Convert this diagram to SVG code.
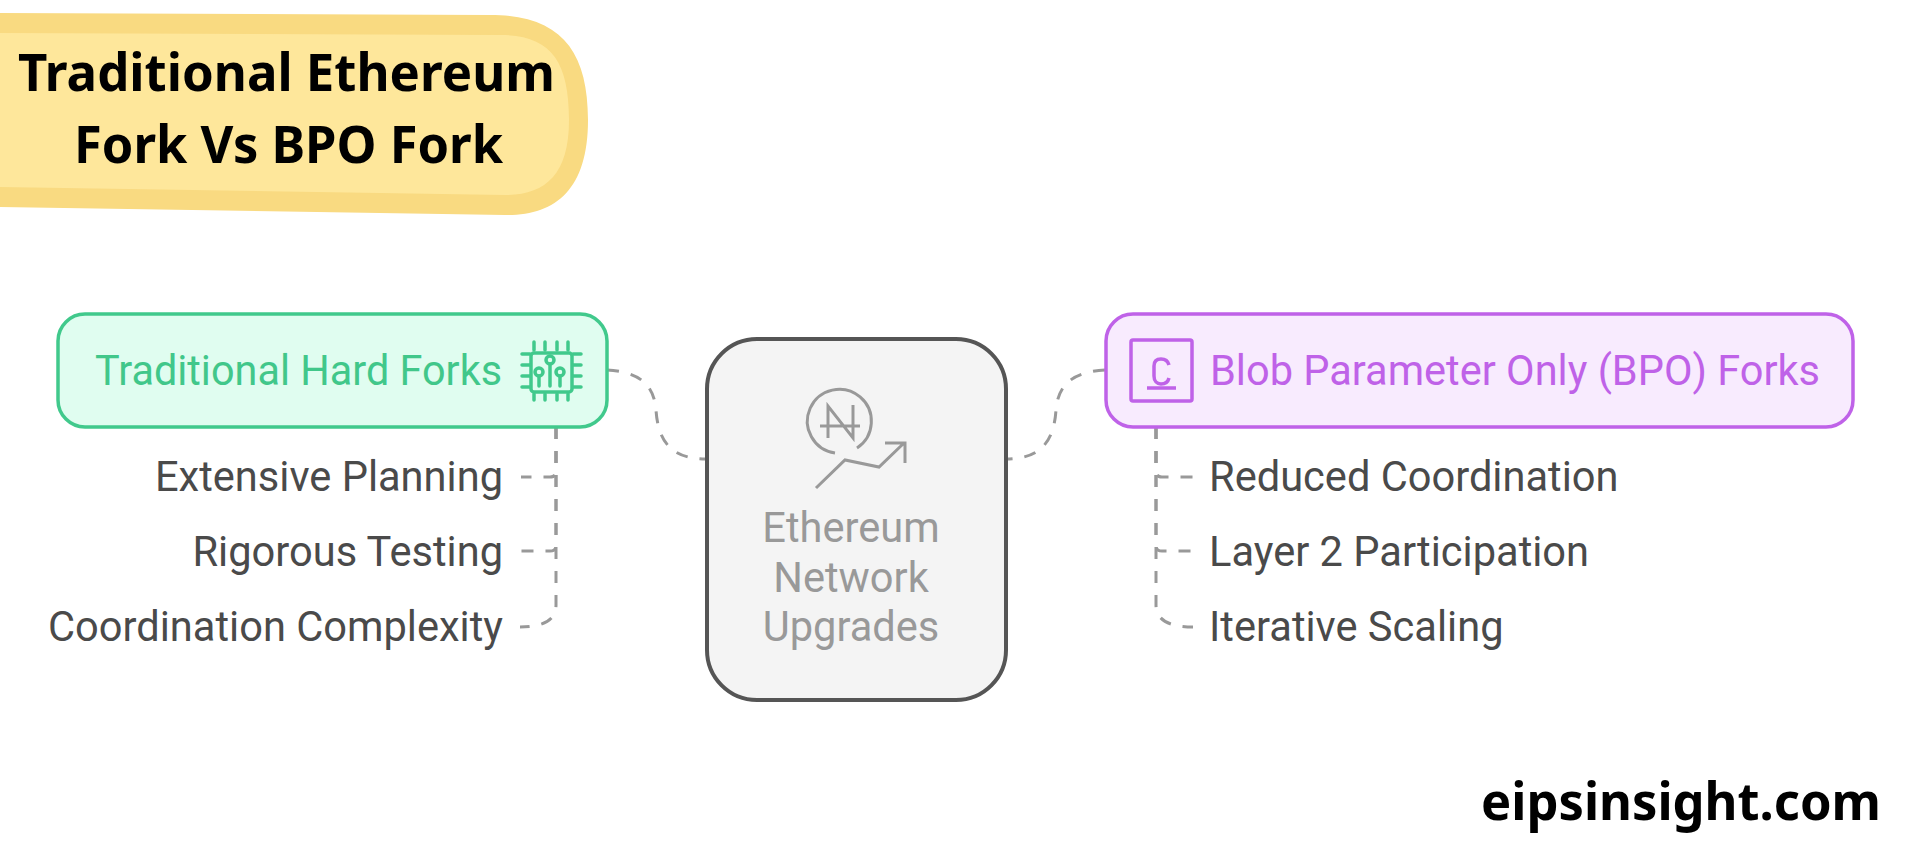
<svg xmlns="http://www.w3.org/2000/svg" width="1916" height="848" viewBox="0 0 1916 848">
<style>
.t{font-family:"Noto Sans","Open Sans",sans-serif;font-weight:700;fill:#000}
.r{font-family:Roboto,"Liberation Sans",sans-serif;font-size:41.6px}
.item{fill:#4a4a4a}
.c{fill:none;stroke:#999;stroke-width:3;stroke-dasharray:12 12}
.gi{fill:none;stroke:#41c98c;stroke-width:3.5;stroke-linecap:round;stroke-linejoin:round}
.pi{fill:none;stroke:#bf62e8;stroke-width:3.5;stroke-linejoin:round}
.ci{fill:none;stroke:#999;stroke-width:3}
</style>
<rect width="1916" height="848" fill="#fff"/>
<g id="banner">
<path d="M0 13L490 15C560 15 588 50 588 120C588 190 555 216 505 215L0 207Z" fill="#f9da81"/>
<path d="M0 33L500 35C550 35 569 60 569 120C569 175 545 195 505 195L0 187Z" fill="#fee79b"/>
<text class="t" x="18" y="91" font-size="52" textLength="537" lengthAdjust="spacingAndGlyphs">Traditional Ethereum</text>
<text class="t" x="74" y="163" font-size="52" textLength="429" lengthAdjust="spacingAndGlyphs">Fork Vs BPO Fork</text>
</g>
<g id="connectors">
<path class="c" d="M607 370C640 372 654 385 656 410C658 440 670 459 706 459"/>
<path class="c" d="M1105 370C1072 372 1058 385 1056 410C1054 440 1042 459 1006 459"/>
<path class="c" d="M556 427V471Q556 477 550 477H521"/>
<path class="c" d="M556 427V545Q556 551 550 551H521"/>
<path class="c" d="M556 427V605Q556 627 520 627"/>
<path class="c" d="M1156 427V471Q1156 477 1162 477H1193"/>
<path class="c" d="M1156 427V545Q1156 551 1162 551H1193"/>
<path class="c" d="M1156 427V605Q1156 627 1193 627"/>
</g>
<g id="node-traditional">
<rect x="58" y="314" width="549" height="113" rx="27" fill="#e0fdf0" stroke="#41c98c" stroke-width="3.5"/>
<text class="r" x="95" y="385" fill="#41c78a" textLength="407" lengthAdjust="spacingAndGlyphs">Traditional Hard Forks</text>
<rect class="gi" x="531" y="353" width="41" height="39" rx="3"/>
<path class="gi" d="M534 342V350M545 342V350M557 342V350M568 342V350M534 394V400M545 394V400M557 394V400M568 394V400M522 354H530M522 365H530M522 376H530M522 387H530M573 354H581M573 365H581M573 376H581M573 387H581M550 364V386M539 376V386M560 376V386"/>
<circle class="gi" cx="550" cy="360" r="4"/><circle class="gi" cx="539" cy="372" r="4"/><circle class="gi" cx="560" cy="372" r="4"/>
</g>
<g id="item-extensive"><text class="r item" x="503" y="491" text-anchor="end">Extensive Planning</text></g>
<g id="item-rigorous"><text class="r item" x="503" y="566" text-anchor="end">Rigorous Testing</text></g>
<g id="item-coordination"><text class="r item" x="503" y="641" text-anchor="end">Coordination Complexity</text></g>
<g id="node-center">
<rect x="707" y="339" width="299" height="361" rx="50" fill="#f4f4f4" stroke="#555" stroke-width="4"/>
<path class="ci" d="M835 453A32 32 0 1 1 857 448"/>
<path class="ci" d="M828 438V406L853 438V405M820 426H860" stroke-width="3.5"/>
<path class="ci" d="M816 488L845 460L879 467L903 444M885 443H905V463"/>
<text class="r" x="851" y="542" text-anchor="middle" fill="#999">Ethereum</text>
<text class="r" x="851" y="592" text-anchor="middle" fill="#999">Network</text>
<text class="r" x="851" y="641" text-anchor="middle" fill="#999">Upgrades</text>
</g>
<g id="node-bpo">
<rect x="1106" y="314" width="747" height="113" rx="27" fill="#f8ebfe" stroke="#bf62e8" stroke-width="3.5"/>
<rect class="pi" x="1131" y="340" width="61" height="61" rx="2"/>
<path class="pi" d="M1169 365C1168 361 1165 359 1161 359C1156 359 1154 362 1154 366V376C1154 381 1157 384 1161 384C1165 384 1168 382 1169 378M1147 388H1176"/>
<text class="r" x="1210" y="385" fill="#bf62e8" textLength="610" lengthAdjust="spacingAndGlyphs">Blob Parameter Only (BPO) Forks</text>
</g>
<g id="item-reduced"><text class="r item" x="1209" y="491">Reduced Coordination</text></g>
<g id="item-layer2"><text class="r item" x="1209" y="566">Layer 2 Participation</text></g>
<g id="item-iterative"><text class="r item" x="1209" y="641">Iterative Scaling</text></g>
<g id="brand"><text class="t" x="1481" y="820" font-size="52" textLength="400" lengthAdjust="spacingAndGlyphs">eipsinsight.com</text></g>
</svg>
